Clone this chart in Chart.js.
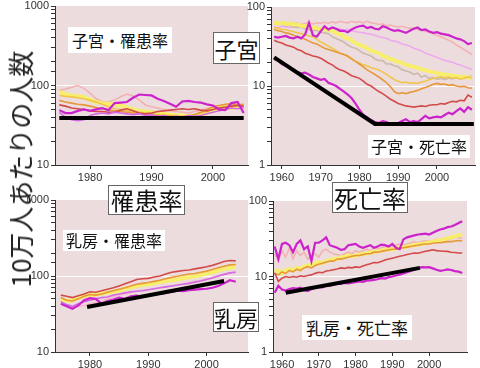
<!DOCTYPE html>
<html>
<head>
<meta charset="utf-8">
<script src="https://cdn.jsdelivr.net/npm/chart.js@4.4.1/dist/chart.umd.min.js"></script>
<style>
body { margin:0; background:#fff; width:480px; height:368px; overflow:hidden; position:relative; font-family:"Noto Sans CJK JP", sans-serif; }
canvas { position:absolute; }
.lbl { position:absolute; background:#fff; color:#111; text-align:center; white-space:nowrap; z-index:5; box-sizing:border-box; }
.big { border:1px solid #666; }
#ytitle { position:absolute; left:20px; top:169px; transform:translate(-50%,-50%) rotate(-90deg); font-size:26px; line-height:1; color:#222; white-space:nowrap; z-index:5; }
</style>
</head>
<body>
<canvas id="cxInc"></canvas>
<canvas id="cxMort"></canvas>
<canvas id="brInc"></canvas>
<canvas id="brMort"></canvas>

<div id="ytitle">10万人あたりの人数</div>
<div class="lbl" style="left:68px;top:27px;width:104px;height:26px;line-height:26px;font-size:16px;">子宮・罹患率</div>
<div class="lbl big" style="left:213px;top:32px;width:47px;height:32px;line-height:30px;font-size:22px;">子宮</div>
<div class="lbl" style="left:368px;top:135px;width:102px;height:23px;line-height:23px;font-size:16px;">子宮・死亡率</div>
<div class="lbl big" style="left:108px;top:185px;width:77px;height:30px;line-height:28px;font-size:24px;">罹患率</div>
<div class="lbl big" style="left:332px;top:182px;width:76px;height:31px;line-height:29px;font-size:24px;">死亡率</div>
<div class="lbl" style="left:63px;top:230px;width:102px;height:21px;line-height:21px;font-size:16px;">乳房・罹患率</div>
<div class="lbl big" style="left:213px;top:302px;width:46px;height:30px;line-height:28px;font-size:22px;">乳房</div>
<div class="lbl" style="left:302px;top:315px;width:110px;height:25px;line-height:25px;font-size:17px;">乳房・死亡率</div>

<script>
// years --- incidence panels 1975-2005, mortality panels 1958-2009
var yearsInc = [1975,1976,1977,1978,1979,1980,1981,1982,1983,1984,1985,1986,1987,1988,1989,1990,1991,1992,1993,1994,1995,1996,1997,1998,1999,2000,2001,2002,2003,2004,2005];
var yearsMort = [1958,1959,1960,1961,1962,1963,1964,1965,1966,1967,1968,1969,1970,1971,1972,1973,1974,1975,1976,1977,1978,1979,1980,1981,1982,1983,1984,1985,1986,1987,1988,1989,1990,1991,1992,1993,1994,1995,1996,1997,1998,1999,2000,2001,2002,2003,2004,2005,2006,2007,2008,2009];

// tick labels
var ticksInc = [10, 100, 1000];
var ticksMort = [1, 10, 100];
var xTicksInc = [1980, 1990, 2000];
var xTicksMort = [1960, 1970, 1980, 1990, 2000];

// 子宮・罹患率
var cxIncMagenta = [49,45,45,48,50,48,50,52,49,60,61,62,70,77,76,75,68,64,59,54,63,64,62,61,58,56,50,49,60,62,45];
var cxIncViolet = [46,40,37,36,37,42,44,45,44,46,45,44,43,44,42,43,41,42,40,41,40,42,41,42,44,46,48,50,52,51,53];
var cxIncPink = [87,90,95,100,92,80,68,63,62,66,72,78,74,66,57,54,52,50,48,47,46,45,47,49,51,53,55,54,56,55,54];
var cxIncYellow = [83,78,75,73,72,66,62,60,59,58,56,53,50,48,47,46,45,44,43,42,42,41,41,42,45,50,52,53,52,54,55];
var cxIncGold = [75,73,72,70,68,65,62,58,54,51,50,48,47,46,45,44,43,43,42,42,41,42,43,45,47,50,52,55,54,56,57];
var cxIncOrange = [65,62,60,58,57,55,53,51,49,48,47,46,45,44,43,42,42,41,41,40,40,41,43,46,50,54,56,58,59,57,58];
var cxIncRed = [57,55,52,51,50,48,47,47,46,46,49,51,48,45,44,45,47,48,49,50,51,50,51,49,48,50,52,53,55,56,55];
var cxIncTrendYears = [1975, 2005];
var cxIncTrend = [39, 39];

// 子宮・死亡率
var cxMortMagenta = [42,41,42,43,41,40,42,40,45,63,44,42, 49,57,52,55,53,50,50,48,52,55, 57,58,54,56,53,52,57,55,52,50, 51,49,47,50,53,55,51,52,49,47, 48,46,45,44,42,40,39,37,34,35];
var cxMortSalmon = [60,62,63,61,64,62,63,60,62,64,61,63, 62,64,62,65,63,66,64,63,66,64, 65,63,66,63,62,60,61,58,59,57, 56,57,55,54,54,52,51,49,48,46, 44,42,40,38,36,33,31,29,27,25];
var cxMortLilac = [56,55,57,56,55,57,56,55,56,54,55,56, 54,55,53,54,52,53,51,52,50,49, 48,47,46,45,44,42,41,40,38,37, 36,34,33,32,30,29,28,26,25,24, 23,22,21,20.5,20,19,18.5,17.5,17,16];
var cxMortGray = [62,60,61,58,59,56,55,56,53,52,50,51, 48,47,46,42,40,38,36,33,31,30, 28,26,25,24,22,21,21,19,19,18, 17.5,16,15.5,15,14,14.5,13,13.5,12.5,12.8, 12.2,12.5,12,12.6,12.3,12.8,13,13.2,13,13.5];
var cxMortYellow = [63,62,63,61,62,60,60,58,57,56,55,54, 53,52,51,50,47,45,42,40,38,35, 33,32,30,28,27,26,24,23,22,21, 20.3,19.5,18.5,18,17.5,17,16.2,15.8,15.3,15, 14.5,14.2,14,13.8,13.5,13.3,13,13.1,12.8,12.7];
var cxMortGold = [55,54,52,52,50,49,47,46,45,43,42,39, 36,34,32,30,28,26,25,23.5,22,20.5, 19.5,18.5,18,17,16.5,16,15,14,13,12, 11.5,11,11.2,10.8,11,10.8,11.2,11.5,12,12.5, 12.8,13.1,12.7,13,12.5,12.8,12.2,12.5,13,12.6];
var cxMortOrange = [52,50,49,47,46,44,42,41,39,37,35,34, 32,30,29,28,27,26,25,24,22,20.5, 19,17.5,16,15,14,13,12,11,9.8,8.5, 8,8.2,8,8.3,8.5,8.8,9.2,9.6,10,10.5, 10.8,10.5,10.6,10.2,10.4,10,9.8,9.9,9.5,9.4];
var cxMortRed = [38,36,35,33,32,31,29,28,26,25,24,23.5, 22.5,21,19.5,18.5,17,16,15.5,14.5,13.5,13, 12.5,11.5,10.5,10,9.2,8.5,8,7.4,6.8,6.4, 6,5.8,5.6,5.5,5.4,5.5,5.6,5.5,5.7,5.8, 5.8,6,5.9,6.2,6.4,6.3,6.6,6.5,7.7,7.2];
var cxMortMagenta2 = [22,21,19,18,17,16,15,14.5,14.8,14,13,12.5, 12,12.3,11,10.5,10,9.2,8.5,7.8,7,6, 5,4.3,4,3.7,3.5,3.4,3.6,3.5,3.3,3.4, 3.4,3.6,3.8,3.5,3.6,3.5,3.8,4.2,3.9,4, 4.1,4,4.3,4.6,4.4,4.8,5.2,4.7,5.4,5];
var cxMortTrendYears = [1958, 1984, 2009.5];
var cxMortTrend = [23, 3.3, 3.3];

// 乳房・罹患率
var brIncRed = [56,54,52,55,58,62,61,64,67,70,74,79,84,90,92,93,97,100,106,112,115,118,120,124,128,132,138,146,155,160,158];
var brIncOrange = [52,48,47,50,54,57,56,58,61,64,67,70,74,78,80,82,85,88,92,96,99,103,106,108,112,116,122,128,134,140,142];
var brIncYellow = [50,47,48,52,55,56,57,59,60,62,64,68,71,74,76,78,80,83,86,88,90,94,96,99,103,108,112,118,124,128,132];
var brIncPink = [44,40,38,40,41,43,45,47,50,53,56,58,60,63,65,66,68,70,72,74,76,79,82,85,88,92,96,100,105,110,115];
var brIncViolet = [46,42,40,43,46,48,50,52,53,56,58,60,62,63,64,66,68,70,72,74,76,78,80,83,86,90,94,100,105,110,112];
var brIncMagenta = [43,40,37,41,48,51,50,43,47,49,52,50,54,55,53,56,58,58,60,62,64,63,65,66,67,68,70,74,80,88,84];
var brIncTrendYears = [1979.5, 2003];
var brIncTrend = [39, 86];

// 乳房・死亡率
var brMortMagenta = [25,17,27,28,26,21,27,30,23,25,16,28, 28,30,33,26,25,24,22.5,23,26,26.5, 27,25,24,25,26,24,25,26.5,26,25, 27,24,23,31,33,34,35,36,36.5,37, 36,38,40,42,43,45,46,48,51,54];
var brMortSalmon = [20,16,22,18,24,17,22,19,21,17,19,20, 18,22,23,21,20,19.5,19,20,21,20, 22,21,22,23,22,24,23,24,25,24, 25,26,27,26,27,28,29,28,29,30, 29,30,31,30,32,31,32,33,33,32];
var brMortYellow = [11.5,12,11,12,12.5,12,13,12.5,13.5,14,14,15, 15.5,15,16,16.5,17,17,18,18,19,18.5, 19,19.5,20,20,21,21,21.5,22,22.5,23, 23,23.5,24,24.5,25,25.5,26,26.5,27,27.5, 28,29,29.5,30,31,32,33,34,35,36];
var brMortOrange = [11,10.5,11.5,11,12,11.5,12.5,12,13,13.5,13,14, 14.5,15,15.5,16,16,17,17,17.5,18,18.5, 19,19,19.5,20,20,21,21,21.5,22,22.5, 23,23,23.5,24,24.5,25,25.5,26,26.5,27, 27,27.5,28,28,28.5,29,29,29.5,30,29.5];
var brMortRed = [11.2,8.6,9.5,10,9.7,10,9.8,10.2,10,10.3,10.5,11, 11.4,11.2,11.8,12,12.3,12.6,13,12.8,13.2,13, 13.4,13.2,13.8,14.3,14.8,15.3,15.2,15.8,16.5,17, 17.5,18,18.5,19,19.6,20,20.5,20.3,21,21.6, 22,22.6,22,21.8,21.6,21.5,21,20.8,20.5,20.5];
var brMortMagenta2 = [6.1,7.5,6.7,6.5,6.8,7,6.9,7.1,6.6,6.4,6.8,7.1, 7.3,7.2,7.6,7.5,7.8,8,8,8.2,8.1,8.3, 8.4,8.6,8.5,8.8,8.9,9,9.2,9.5,9.4,9.8, 10,10.3,10.6,11,11.4,11.8,12.3,12.8,13.3,13.2, 13.3,12.8,12.3,11.9,12.1,12.4,12.2,11.8,11.6,11.1];
var brMortTrendYears = [1961, 1997.5];
var brMortTrend = [6.1, 13];

// line colours
var C = {
  black: '#000000', magenta: '#cc22cc', violet: '#d468e6', salmon: '#f2b2b4',
  lilac: '#eeaaee', pink: '#f4bccc', gray: '#c9b9a9', yellow: 'rgba(248,240,96,0.9)',
  gold: '#efc64a', orange: '#e6983a', red: '#d24a4a'
};

function pts(xs, ys) {
  return xs.map(function (x, i) { return {x: x, y: ys[i]}; });
}
function ds(xs, ys, color, w) {
  return {data: pts(xs, ys), borderColor: color, borderWidth: w, pointRadius: 0, fill: false, tension: 0};
}
function isDecade(v, list) {
  for (var i = 0; i < list.length; i++) {
    if (Math.abs(v - list[i]) < 1e-9 * list[i]) return true;
  }
  return false;
}

// pink plot area
var bgPlugin = {
  id: 'bg',
  beforeDraw: function (chart) {
    var a = chart.chartArea, ctx = chart.ctx;
    ctx.save();
    ctx.fillStyle = '#eddcdd';
    ctx.fillRect(a.left, a.top, a.right - a.left, a.bottom - a.top);
    ctx.restore();
  }
};

function makePanel(id, area, xMin, xMax, xTicks, yMin, yMax, decades, sets) {
  var cv = document.getElementById(id);
  var W = area.w + 54, H = area.h + 36;
  cv.width = W; cv.height = H;
  cv.style.width = W + 'px'; cv.style.height = H + 'px';
  cv.style.left = (area.x - 50) + 'px';
  cv.style.top = (area.y - 10) + 'px';
  var tickFont = {family: 'Liberation Sans', size: 11};
  return new Chart(cv, {
    type: 'line',
    data: {datasets: sets},
    options: {
      responsive: false,
      animation: false,
      layout: {padding: {top: 10, right: 4, left: 0, bottom: 0}},
      plugins: {legend: {display: false}, tooltip: {enabled: false}},
      scales: {
        x: {
          type: 'linear', min: xMin, max: xMax,
          afterBuildTicks: function (s) { s.ticks = xTicks.map(function (v) { return {value: v}; }); },
          afterFit: function (s) { s.height = 26; s.paddingLeft = 0; s.paddingRight = 0; },
          grid: {drawOnChartArea: false, tickColor: '#333', tickLength: 4},
          border: {color: '#333'},
          ticks: {
            autoSkip: false, maxRotation: 0,
            padding: 2, color: '#333', font: tickFont,
            callback: function (v) { return String(v); }
          }
        },
        y: {
          type: 'logarithmic', min: yMin, max: yMax,
          afterFit: function (s) { s.width = 50; s.paddingTop = 0; s.paddingBottom = 0; },
          grid: {
            color: function (c) {
              var v = c.tick ? c.tick.value : null;
              return (v !== yMin && v !== yMax && isDecade(v, decades)) ? '#ffffff' : 'rgba(0,0,0,0)';
            },
            tickColor: '#333', tickLength: 4
          },
          border: {color: '#333'},
          ticks: {
            autoSkip: false, padding: 2, color: '#333', font: tickFont,
            callback: function (v) { return isDecade(v, decades) ? String(v) : ''; }
          }
        }
      }
    },
    plugins: [bgPlugin]
  });
}

// 子宮・罹患率 --- START
makePanel('cxInc', {x: 55, y: 6, w: 193, h: 159}, 1974.3, 2005.7, xTicksInc, 10, 1000, ticksInc, [
  ds(cxIncTrendYears, cxIncTrend, C.black, 4),
  ds(yearsInc, cxIncMagenta, C.magenta, 2.2),
  ds(yearsInc, cxIncViolet, C.violet, 1.6),
  ds(yearsInc, cxIncRed, C.red, 1.6),
  ds(yearsInc, cxIncOrange, C.orange, 1.6),
  ds(yearsInc, cxIncGold, C.gold, 1.6),
  ds(yearsInc, cxIncYellow, C.yellow, 4),
  ds(yearsInc, cxIncPink, C.salmon, 1.6)
]);
// 子宮・罹患率 --- END

// 子宮・死亡率 --- START
makePanel('cxMort', {x: 271, y: 7, w: 204, h: 158}, 1957.2, 2009.8, xTicksMort, 1, 100, ticksMort, [
  ds(cxMortTrendYears, cxMortTrend, C.black, 4),
  ds(yearsMort, cxMortMagenta, C.magenta, 2.2),
  ds(yearsMort, cxMortMagenta2, C.magenta, 2.2),
  ds(yearsMort, cxMortRed, C.red, 1.6),
  ds(yearsMort, cxMortOrange, C.orange, 1.6),
  ds(yearsMort, cxMortGold, C.gold, 1.6),
  ds(yearsMort, cxMortYellow, C.yellow, 4),
  ds(yearsMort, cxMortGray, C.gray, 1.6),
  ds(yearsMort, cxMortLilac, C.lilac, 1.6),
  ds(yearsMort, cxMortSalmon, C.salmon, 1.6)
]);
// 子宮・死亡率 --- END

// 乳房・罹患率 --- START
makePanel('brInc', {x: 55, y: 200, w: 193, h: 152}, 1974.0, 2007.1, xTicksInc, 10, 1000, ticksInc, [
  ds(brIncTrendYears, brIncTrend, C.black, 4),
  ds(yearsInc, brIncMagenta, C.magenta, 2.2),
  ds(yearsInc, brIncViolet, C.violet, 1.6),
  ds(yearsInc, brIncRed, C.red, 1.6),
  ds(yearsInc, brIncOrange, C.orange, 1.6),
  ds(yearsInc, brIncYellow, C.yellow, 4),
  ds(yearsInc, brIncPink, C.pink, 1.6)
]);
// 乳房・罹患率 --- END

// 乳房・死亡率 --- START
makePanel('brMort', {x: 273, y: 201, w: 194, h: 151}, 1957.55, 2010.3, xTicksMort, 1, 100, ticksMort, [
  ds(brMortTrendYears, brMortTrend, C.black, 4),
  ds(yearsMort, brMortMagenta, C.magenta, 2.2),
  ds(yearsMort, brMortMagenta2, C.magenta, 2.2),
  ds(yearsMort, brMortRed, C.red, 1.6),
  ds(yearsMort, brMortOrange, C.orange, 1.6),
  ds(yearsMort, brMortYellow, C.yellow, 4),
  ds(yearsMort, brMortSalmon, C.salmon, 1.6)
]);
// 乳房・死亡率 --- END
</script>
</body>
</html>
